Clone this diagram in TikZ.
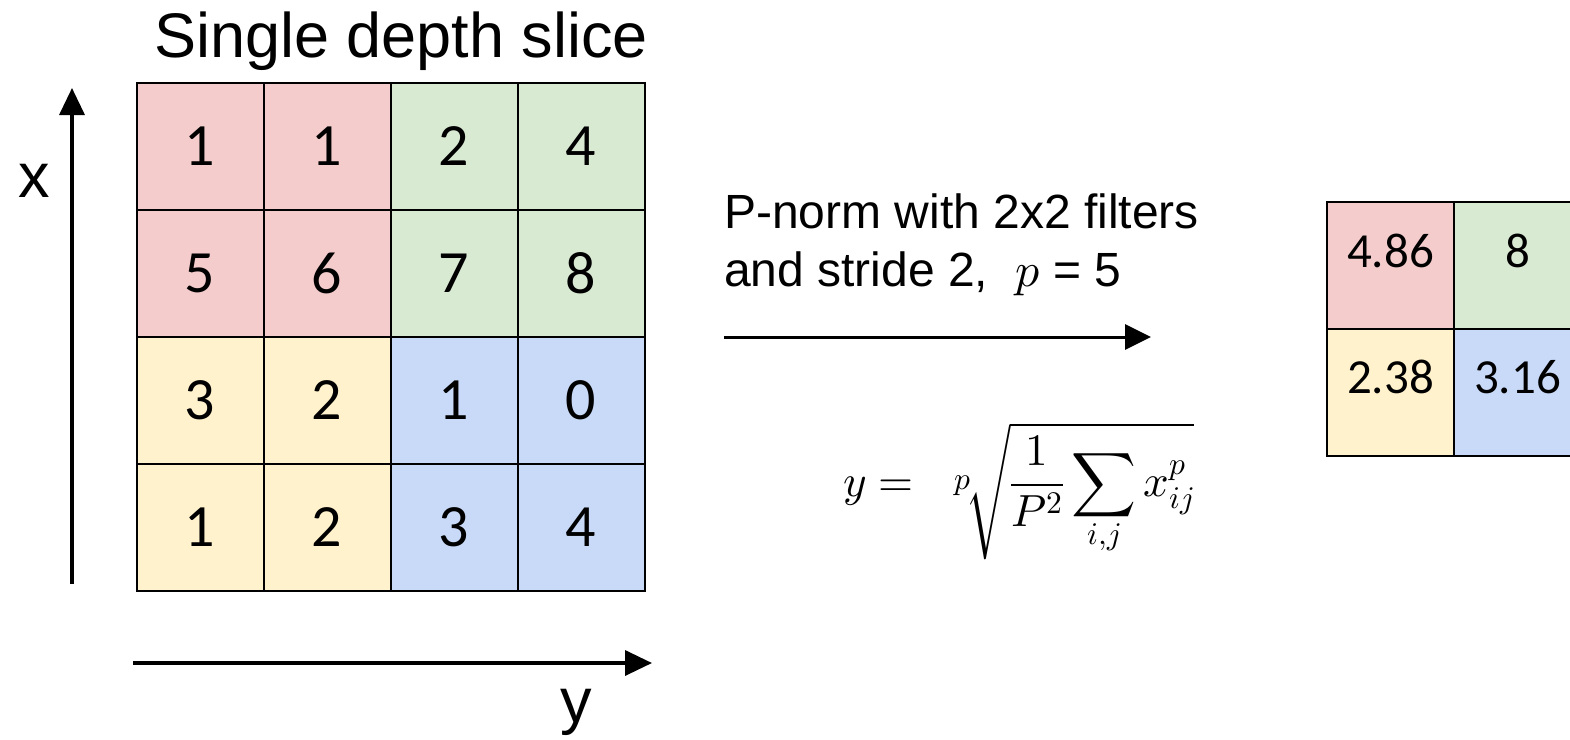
\documentclass[tikz,border=0pt]{standalone}
\usepackage{fontspec}
\usepackage{unicode-math}
\setmainfont{Liberation Sans}
\setmathfont{Latin Modern Math}
\newfontfamily\calib{Carlito}
\usetikzlibrary{arrows.meta}
\definecolor{pk}{RGB}{244,204,204}
\definecolor{gn}{RGB}{217,234,211}
\definecolor{yl}{RGB}{255,242,204}
\definecolor{bl}{RGB}{201,218,248}
\tikzset{
  cell/.style={draw=black, line width=2pt, minimum width=127pt, minimum height=127pt, inner sep=0pt, outer sep=0pt, font=\calib\fontsize{60}{60}\selectfont},
  ocell/.style={draw=black, line width=2.5pt, minimum width=127pt, minimum height=127pt, inner sep=0pt, outer sep=0pt},
  onum/.style={font=\calib\fontsize{49}{49}\selectfont, inner sep=0pt},
  lbl/.style={font=\fontsize{63}{63}\selectfont, inner sep=0pt},
  axis/.style={line width=3.5pt, -{Triangle[length=27pt,width=25pt]}},
}
\begin{document}
\begin{tikzpicture}[x=1pt,y=-1pt]
\useasboundingbox (0,0) rectangle (1570,739);
\clip (0,0) rectangle (1570,739);
% title
\node[lbl, anchor=base] (title) at (401,57) {Single depth slice};
% left grid
\foreach \r/\a/\b/\c/\d/\ca/\cb in {1/1/1/2/4/pk/gn, 2/5/6/7/8/pk/gn, 3/3/2/1/0/yl/bl, 4/1/2/3/4/yl/bl}{
  \node[cell, fill=\ca] (c\r1) at (200, {83+127*(\r-0.5)}) {\a};
  \node[cell, fill=\ca] (c\r2) at (327, {83+127*(\r-0.5)}) {\b};
  \node[cell, fill=\cb] (c\r3) at (454, {83+127*(\r-0.5)}) {\c};
  \node[cell, fill=\cb] (c\r4) at (581, {83+127*(\r-0.5)}) {\d};
}
% axes
\coordinate (xa0) at (72,584);
\coordinate (xa1) at (72,88);
\draw[axis] (xa0) -- (xa1);
\node[lbl, anchor=base] (xl) at (34,197) {x};
\coordinate (ya0) at (133,663);
\coordinate (ya1) at (652,663);
\draw[axis] (ya0) -- (ya1);
\node[lbl, anchor=base] (yl) at (576,722) {y};
% middle
\node[anchor=base west, inner sep=0pt, align=left, font=\fontsize{48}{58}\selectfont] (desc) at (724,286)
  {P-norm with 2x2 filters\\and stride 2,\ \ $p$ = 5};
\coordinate (ma0) at (724,337);
\coordinate (ma1) at (1151,337);
\draw[line width=3pt, -{Triangle[length=26pt,width=25pt]}] (ma0) -- (ma1);
\node[anchor=base west, inner sep=0pt, font=\fontsize{45}{54}\selectfont] (eq) at (843,496)
  {$\displaystyle y = \;\; \sqrt[\scriptstyle p]{\frac{1}{P^2}\sum_{i,j} x_{ij}^{p}}$};
% right grid
\node[ocell, fill=pk] (o11) at (1390.5,265.5) {};
\node[ocell, fill=gn] (o12) at (1517.5,265.5) {};
\node[ocell, fill=yl] (o21) at (1390.5,392.5) {};
\node[ocell, fill=bl] (o22) at (1517.5,392.5) {};
\node[onum, anchor=base] (n11) at (1390.5,267) {4.86};
\node[onum, anchor=base] (n12) at (1517.5,267) {8};
\node[onum, anchor=base] (n21) at (1390.5,393) {2.38};
\node[onum, anchor=base] (n22) at (1517.5,393) {3.16};
\end{tikzpicture}
\end{document}
